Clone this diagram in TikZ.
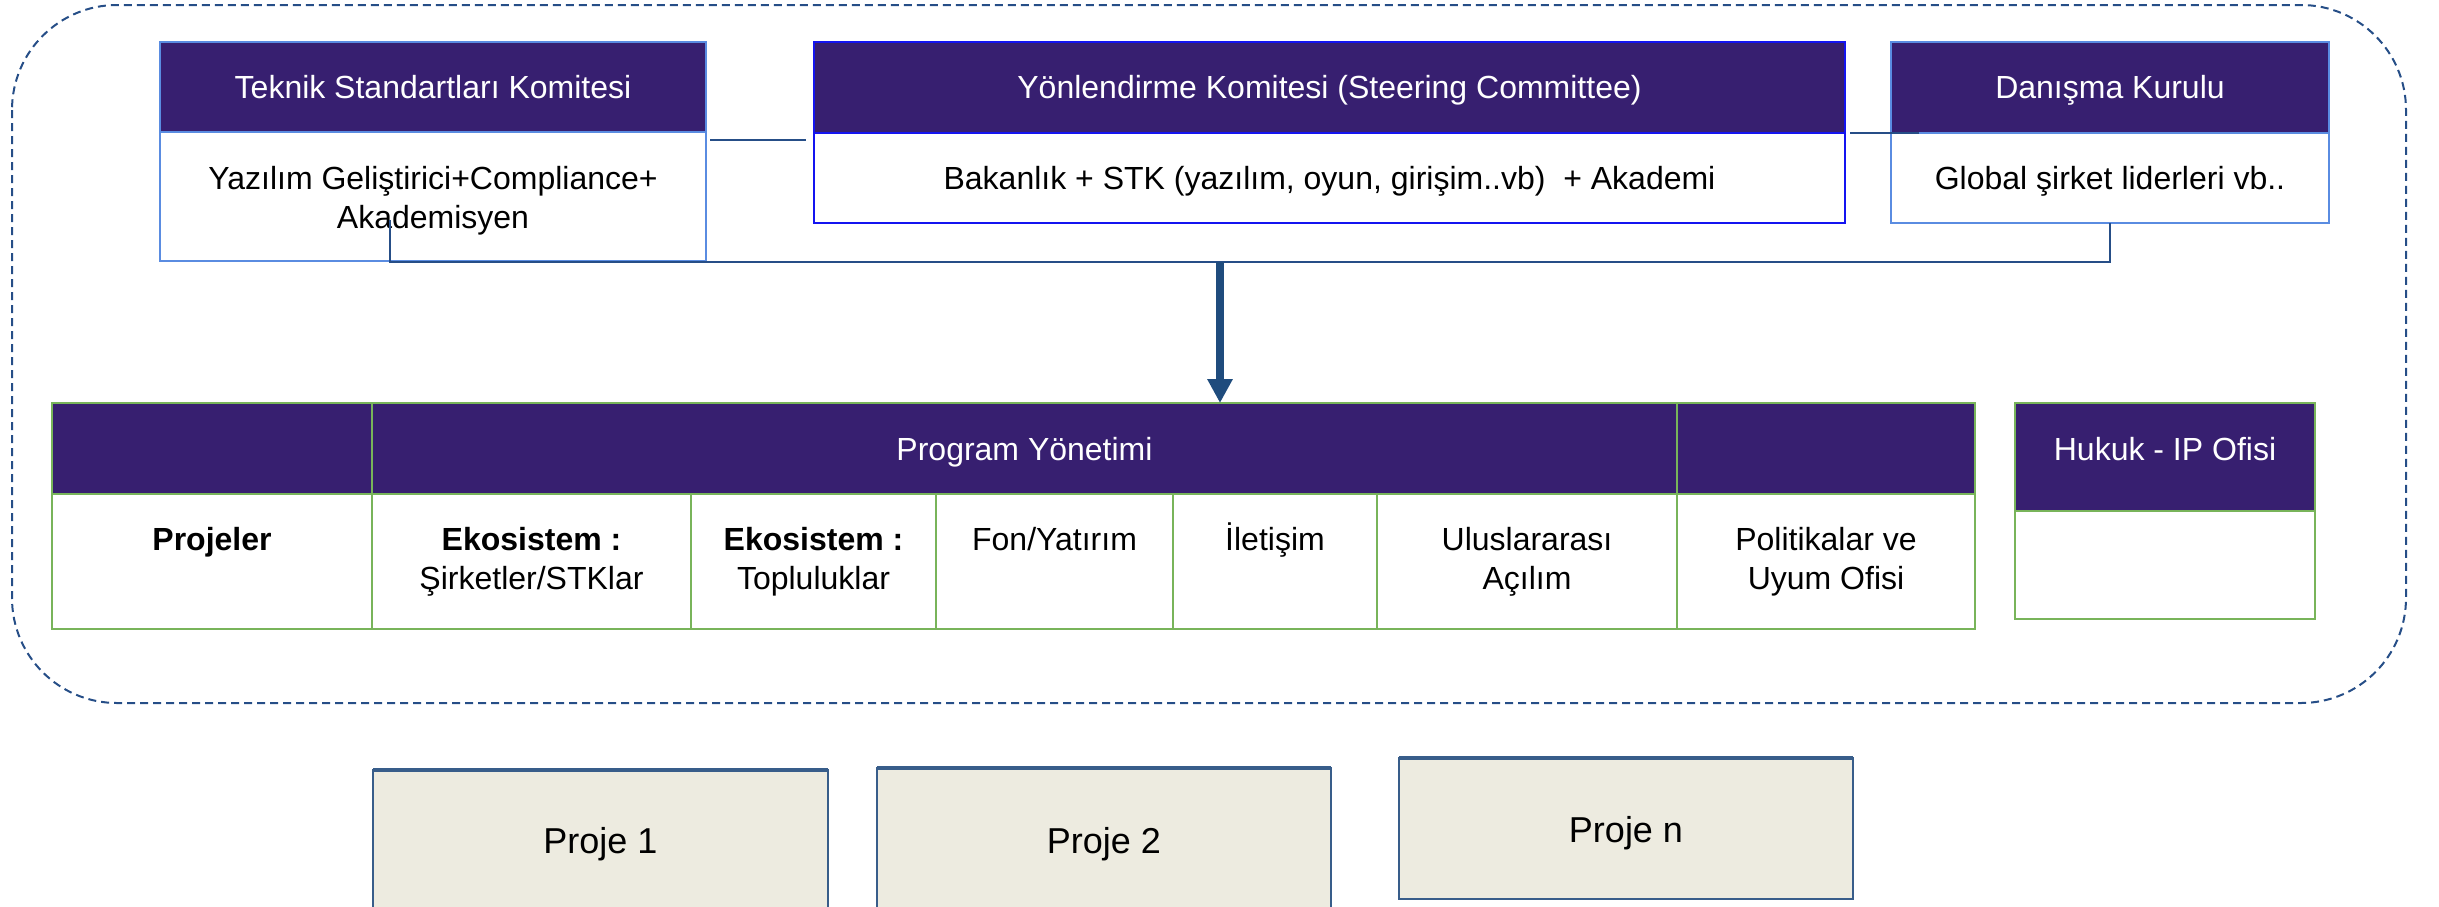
\documentclass[tikz,border=0pt]{standalone}
\usepackage{fontspec}
\setmainfont{Liberation Sans}
\usetikzlibrary{arrows.meta,calc}
\definecolor{hdr}{RGB}{55,31,112}
\definecolor{lblue}{RGB}{90,140,225}
\definecolor{bblue}{RGB}{20,20,240}
\definecolor{grn}{RGB}{120,180,90}
\definecolor{conn}{RGB}{38,78,135}
\definecolor{arrowc}{RGB}{31,76,125}
\definecolor{tanfill}{RGB}{237,235,224}
\definecolor{pborder}{RGB}{56,93,138}
\newcommand\fsA{\fontsize{32}{38.5}\selectfont}
\newcommand\fsB{\fontsize{36}{42}\selectfont}
\tikzset{
 base/.style={inner sep=0pt, outer sep=0pt, line width=2pt},
 thead/.style={base, fill=hdr, draw=lblue},
 tbody/.style={base, fill=white, draw=lblue},
 shead/.style={thead, draw=bblue},
 sbody/.style={tbody, draw=bblue},
 ghead/.style={base, fill=hdr, draw=grn},
 gcell/.style={base, fill=white, draw=grn},
 ctext/.style={font=\fsA, align=center, anchor=base, inner sep=0pt},
 wtext/.style={ctext, text=white},
 ptext/.style={ctext, font=\fsB},
 proj/.style={base, line width=2.5pt, fill=tanfill, draw=pborder},
 link/.style={draw=conn, line width=2pt},
 mainarrow/.style={draw=arrowc, line width=7.5pt, -{Triangle[width=24pt,length=24pt]}},
 outline/.style={draw=conn, line width=2pt, dash pattern=on 8pt off 5pt, rounded corners=105pt}
}
\begin{document}
\begin{tikzpicture}[x=1pt,y=-1pt]
\useasboundingbox (0,0) rectangle (2439,906);
\clip (0,0) rectangle (2439,906);
% outer dashed frame
\draw[outline] (12,5) rectangle (2406,703);
% top committees
\node[thead, minimum width=546, minimum height=90] (TH) at (433,87) {};
\node[tbody, minimum width=546, minimum height=129] (TB) at (433,196.5) {};
\node[shead, minimum width=1031, minimum height=91] (YH) at (1329.5,87.5) {};
\node[sbody, minimum width=1031, minimum height=90] (YB) at (1329.5,178) {};
\node[thead, minimum width=438, minimum height=91] (DH) at (2110,87.5) {};
\node[tbody, minimum width=438, minimum height=90] (DB) at (2110,178) {};
\node[wtext] (THt) at (433,98.5) {Teknik Standartları Komitesi};
\node[ctext] (TBt) at (433,228) {Yazılım Geliştirici+Compliance+\\Akademisyen};
\node[wtext] (YHt) at (1329.5,98.5) {Yönlendirme Komitesi (Steering Committee)};
\node[ctext] (YBt) at (1329.5,189) {Bakanlık + STK (yazılım, oyun, girişim..vb)~~+ Akademi};
\node[wtext] (DHt) at (2110,98.5) {Danışma Kurulu};
\node[ctext] (DBt) at (2110,189) {Global şirket liderleri vb..};
% links between committees
\coordinate (l1a) at (710,140);
\coordinate (l1b) at (806,140);
\draw[link] (l1a) -- (l1b);
\coordinate (l2a) at (1850,133);
\coordinate (l2b) at (1919,133);
\draw[link] (l2a) -- (l2b);
% bus line
\coordinate (tk) at (390,220);
\coordinate (tkb) at (390,262);
\coordinate (dkb) at (2110,262);
\coordinate (j) at (1220,262);
\draw[link] (tk) -- (tkb) -- (dkb) -- (DB.south);
% program table header
\node[ghead, minimum width=320, minimum height=91] (H0) at (212,448.5) {};
\node[ghead, minimum width=1305, minimum height=91] (H1) at (1024.5,448.5) {};
\node[ghead, minimum width=298, minimum height=91] (H2) at (1826,448.5) {};
\node[wtext] (H1t) at (1024.5,460) {Program Yönetimi};
% program table body
\node[gcell, minimum width=320, minimum height=135] (C0) at (212,561.5) {};
\node[gcell, minimum width=319, minimum height=135] (C1) at (531.5,561.5) {};
\node[gcell, minimum width=245, minimum height=135] (C2) at (813.5,561.5) {};
\node[gcell, minimum width=237, minimum height=135] (C3) at (1054.5,561.5) {};
\node[gcell, minimum width=204, minimum height=135] (C4) at (1275,561.5) {};
\node[gcell, minimum width=300, minimum height=135] (C5) at (1527,561.5) {};
\node[gcell, minimum width=298, minimum height=135] (C6) at (1826,561.5) {};
\node[ctext] (T0) at (212,550) {\bfseries Projeler};
\node[ctext] (T1) at (531.5,589) {\bfseries Ekosistem :\\Şirketler/STKlar};
\node[ctext] (T2) at (813.5,589) {\bfseries Ekosistem :\\Topluluklar};
\node[ctext] (T3) at (1054.5,550) {Fon/Yatırım};
\node[ctext] (T4) at (1275,550) {İletişim};
\node[ctext] (T5) at (1527,589) {Uluslararası\\Açılım};
\node[ctext] (T6) at (1826,589) {Politikalar ve\\Uyum Ofisi};
% Hukuk
\node[ghead, minimum width=300, minimum height=108] (HH) at (2165,457) {};
\node[gcell, minimum width=300, minimum height=108] (HB) at (2165,565) {};
\node[wtext] (HT) at (2165,460) {Hukuk - IP Ofisi};
% main arrow
\draw[mainarrow] (j) -- (j |- H1.north);
% projects
\node[proj, minimum width=455, minimum height=140] (P1) at (600.5,840) {};
\node[proj, minimum width=454, minimum height=144] (P2) at (1104,840) {};
\node[proj, minimum width=454, minimum height=141] (PN) at (1626,828.5) {};
\foreach \p in {P1,P2,PN}{\draw[pborder, line width=3.5pt] (\p.north west) -- (\p.north east);}
\node[ptext] (P1t) at (600.5,853) {Proje 1};
\node[ptext] (P2t) at (1104,853) {Proje 2};
\node[ptext] (PNt) at (1626,842) {Proje n};
\end{tikzpicture}
\end{document}
